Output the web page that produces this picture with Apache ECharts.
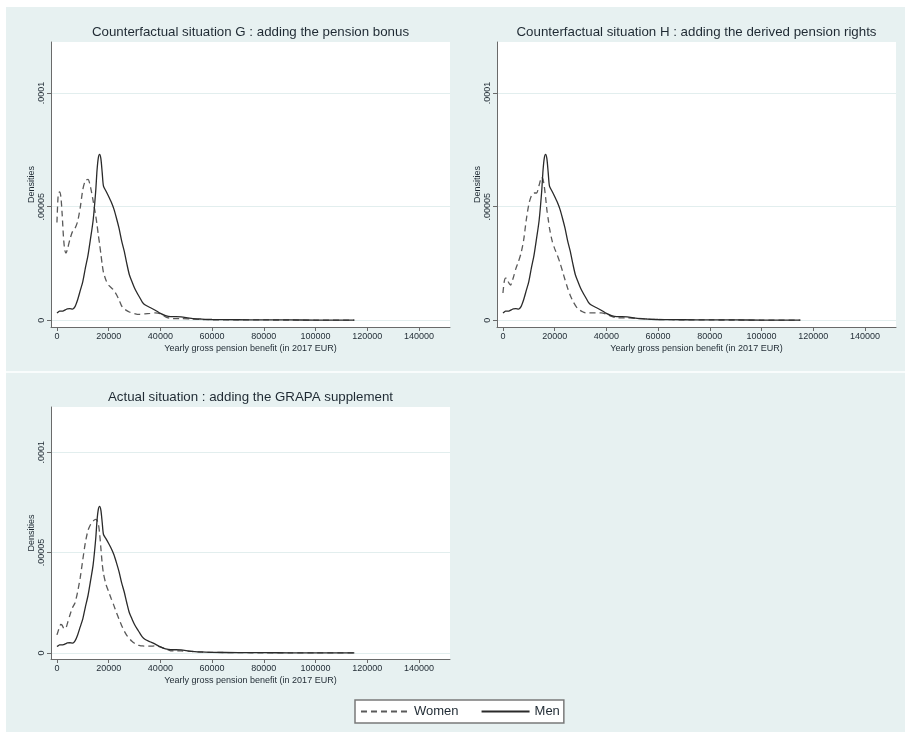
<!DOCTYPE html>
<html>
<head>
<meta charset="utf-8">
<script src="https://cdn.jsdelivr.net/npm/echarts@6/dist/echarts.min.js"></script>
<style>
html,body{margin:0;padding:0;background:#ffffff;}
#bg{position:absolute;left:6px;top:7px;width:899px;height:725px;background:#e7f1f1;}
#chart{position:absolute;left:0;top:0;width:905px;height:732px;}
</style>
</head>
<body>
<div id="bg"></div>
<div id="chart"></div>
<script>
// ---- data ----
const panelTitles = [
  'Counterfactual situation G : adding the pension bonus',
  'Counterfactual situation H : adding the derived pension rights',
  'Actual situation : adding the GRAPA supplement'
];
const seriesNames = ['Women', 'Men'];
const xAxisTitle = 'Yearly gross pension benefit (in 2017 EUR)';
const yAxisTitle = 'Densities';
const xTicks = [0, 20000, 40000, 60000, 80000, 100000, 120000, 140000];
const yTicks = [0, 0.00005, 0.0001];
const yTickLabels = ['0', '.00005', '.0001'];

// income grid (EUR)
const income = [0,500,1000,1500,2000,2500,3000,3500,4000,
  5000,6000,7000,8000,9000,10000,11000,12000,13000,14000,15000,
  15500,16000,16500,17000,17500,18000,
  19000,20000,21000,22000,23000,24000,25000,26000,27000,28000,29000,30000,31000,32000,33000,34000,
  36000,38000,40000,42000,44000,46000,48000,
  52000,56000,60000,70000,80000,90000,100000,115000];

// Men density (same in all three panels)
const menDensity = [0.32e-5,0.36e-5,0.40e-5,0.40e-5,0.40e-5,0.41e-5,0.44e-5,0.47e-5,0.50e-5,
  0.51e-5,0.49e-5,0.60e-5,0.90e-5,1.30e-5,1.70e-5,2.30e-5,2.85e-5,3.60e-5,4.40e-5,5.70e-5,
  6.60e-5,7.15e-5,7.30e-5,7.10e-5,6.50e-5,5.90e-5,
  5.68e-5,5.45e-5,5.20e-5,4.90e-5,4.50e-5,4.05e-5,3.50e-5,3.05e-5,2.50e-5,2.00e-5,1.70e-5,1.42e-5,1.20e-5,1.00e-5,0.80e-5,0.68e-5,
  0.56e-5,0.44e-5,0.30e-5,0.20e-5,0.16e-5,0.16e-5,0.15e-5,
  0.08e-5,0.05e-5,0.03e-5,0.02e-5,0.015e-5,0.01e-5,0.005e-5,0.002e-5];

// Women density, situation G
const womenG = [4.30e-5,5.55e-5,5.65e-5,5.45e-5,4.70e-5,3.70e-5,3.10e-5,2.95e-5,3.10e-5,
  3.55e-5,3.90e-5,4.05e-5,4.35e-5,4.95e-5,5.75e-5,6.15e-5,6.20e-5,5.85e-5,5.25e-5,4.60e-5,
  4.20e-5,3.75e-5,3.35e-5,2.90e-5,2.45e-5,2.10e-5,
  1.75e-5,1.54e-5,1.43e-5,1.32e-5,1.13e-5,0.90e-5,0.63e-5,0.50e-5,0.42e-5,0.36e-5,0.32e-5,0.29e-5,0.26e-5,0.26e-5,0.27e-5,0.28e-5,
  0.30e-5,0.32e-5,0.28e-5,0.15e-5,0.08e-5,0.07e-5,0.07e-5,
  0.05e-5,0.03e-5,0.02e-5,0.015e-5,0.01e-5,0.008e-5,0.005e-5,0.002e-5];

// Women density, situation H
const womenH = [1.20e-5,1.70e-5,1.85e-5,1.85e-5,1.70e-5,1.60e-5,1.55e-5,1.70e-5,1.87e-5,
  2.27e-5,2.58e-5,2.95e-5,3.52e-5,4.40e-5,5.10e-5,5.48e-5,5.60e-5,5.60e-5,5.95e-5,6.30e-5,
  6.20e-5,5.88e-5,5.40e-5,4.85e-5,4.45e-5,4.05e-5,
  3.50e-5,3.15e-5,2.87e-5,2.55e-5,2.17e-5,1.78e-5,1.42e-5,1.10e-5,0.85e-5,0.65e-5,0.50e-5,0.42e-5,0.36e-5,0.32e-5,0.32e-5,0.32e-5,
  0.32e-5,0.32e-5,0.27e-5,0.17e-5,0.10e-5,0.10e-5,0.10e-5,
  0.08e-5,0.05e-5,0.03e-5,0.015e-5,0.01e-5,0.008e-5,0.005e-5,0.002e-5];

// Women density, actual situation (GRAPA)
const womenA = [0.90e-5,1.10e-5,1.30e-5,1.42e-5,1.38e-5,1.25e-5,1.20e-5,1.25e-5,1.45e-5,
  1.88e-5,2.25e-5,2.50e-5,3.05e-5,3.75e-5,4.65e-5,5.50e-5,6.10e-5,6.40e-5,6.57e-5,6.65e-5,
  6.60e-5,6.45e-5,5.95e-5,5.20e-5,4.45e-5,3.95e-5,
  3.40e-5,3.05e-5,2.70e-5,2.37e-5,2.02e-5,1.68e-5,1.37e-5,1.10e-5,0.88e-5,0.72e-5,0.58e-5,0.48e-5,0.40e-5,0.37e-5,0.35e-5,0.34e-5,
  0.34e-5,0.35e-5,0.30e-5,0.20e-5,0.11e-5,0.10e-5,0.10e-5,
  0.08e-5,0.04e-5,0.03e-5,0.015e-5,0.01e-5,0.008e-5,0.005e-5,0.002e-5];

const womenPanels = [womenG, womenH, womenA];

// ---- chart ----
const FONT = '"Liberation Sans", Arial, sans-serif';
const TXT = '#1f2a33';
const AXC = '#6a6a6a';
const grids = [
  {left: 51, top: 42, width: 399, height: 285},
  {left: 497, top: 42, width: 399, height: 285},
  {left: 51, top: 407, width: 399, height: 252}
];
const titleTops = [26, 26, 391];

function pairs(xs, ys) { return xs.map((x, i) => [x, ys[i]]); }

const option = {
  animation: false,
  textStyle: {fontFamily: FONT},
  title: panelTitles.map((t, i) => ({
    text: t,
    left: grids[i].left + grids[i].width / 2,
    textAlign: 'center',
    top: titleTops[i],
    padding: 0,
    textStyle: {fontSize: 13.3, fontWeight: 'normal', color: TXT, fontFamily: FONT}
  })),
  grid: grids.map(g => Object.assign({show: true, backgroundColor: '#ffffff', borderWidth: 0}, g)),
  xAxis: grids.map((g, i) => ({
    type: 'value', gridIndex: i, min: -2300, max: 152000,
    name: xAxisTitle, nameLocation: 'middle', nameGap: 17,
    nameTextStyle: {fontSize: 9, color: TXT, fontFamily: FONT},
    axisLine: {show: true, onZero: false, lineStyle: {color: AXC, width: 1}},
    axisTick: {show: true, length: 4, customValues: xTicks, lineStyle: {color: AXC}},
    axisLabel: {customValues: xTicks, fontSize: 9, color: TXT, margin: 5, fontFamily: FONT,
      formatter: v => String(v)},
    splitLine: {show: false}
  })),
  yAxis: grids.map((g, i) => ({
    type: 'value', gridIndex: i, min: -0.000003, max: 0.0001225,
    name: yAxisTitle, nameLocation: 'middle', nameGap: 15, nameRotate: 90,
    nameTextStyle: {fontSize: 9, color: TXT, fontFamily: FONT},
    axisLine: {show: true, onZero: false, lineStyle: {color: AXC, width: 1}},
    axisTick: {show: true, length: 4, customValues: yTicks, lineStyle: {color: AXC}},
    axisLabel: {customValues: yTicks, rotate: 90, fontSize: 9, color: TXT, margin: 5, fontFamily: FONT,
      formatter: v => { const k = yTicks.findIndex(t => Math.abs(t - v) < 1e-9); return k >= 0 ? yTickLabels[k] : ''; }},
    splitLine: {show: true, lineStyle: {color: '#e2eeee', width: 1}}
  })),
  legend: {
    data: seriesNames,
    left: 355, top: 700,
    backgroundColor: '#ffffff', borderColor: '#7a7a7a', borderWidth: 1.5, borderRadius: 0,
    padding: [5, 4, 5, 5],
    itemGap: 22, itemWidth: 48, itemHeight: 14,
    itemStyle: {opacity: 0},
    textStyle: {fontSize: 13, color: TXT, fontFamily: FONT}
  },
  graphic: [{
    type: 'line', silent: true,
    shape: {x1: 6, y1: 372, x2: 905, y2: 372},
    style: {stroke: '#ffffff', lineWidth: 1.5}
  }],
  series: []
};

for (let i = 0; i < 3; i++) {
  option.series.push({
    name: seriesNames[0], type: 'line', xAxisIndex: i, yAxisIndex: i,
    data: pairs(income, womenPanels[i]), showSymbol: false, symbol: 'none', smooth: 0.25,
    lineStyle: {color: '#5a5a5a', width: 1.3, type: [6, 4]},
    itemStyle: {color: '#5a5a5a'}
  });
  option.series.push({
    name: seriesNames[1], type: 'line', xAxisIndex: i, yAxisIndex: i,
    data: pairs(income, menDensity), showSymbol: false, symbol: 'none', smooth: 0.25,
    lineStyle: {color: '#2a2a2a', width: 1.3, type: 'solid'},
    itemStyle: {color: '#2a2a2a'}
  });
}

const chart = echarts.init(document.getElementById('chart'), null, {renderer: 'canvas'});
chart.setOption(option);
</script>
</body>
</html>
